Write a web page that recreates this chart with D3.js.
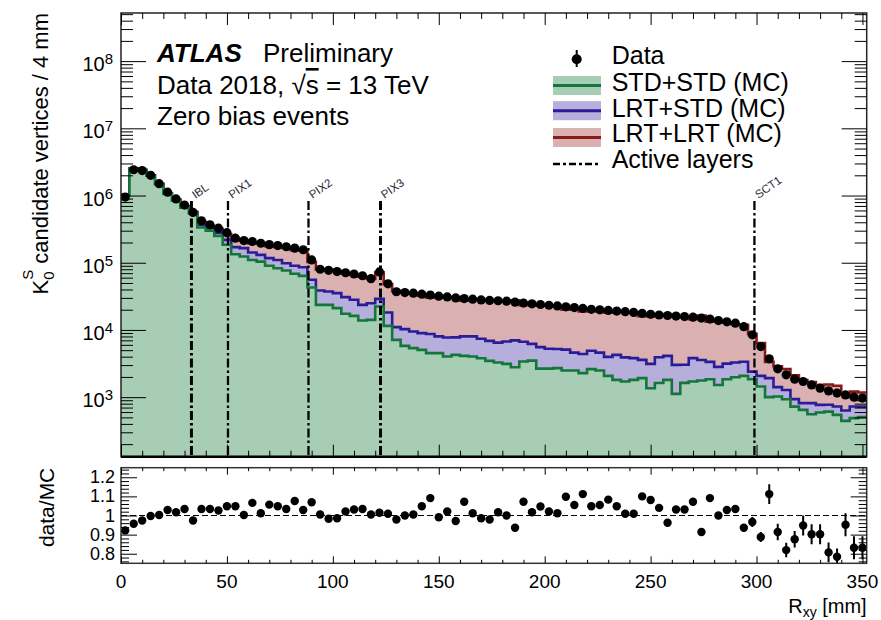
<!DOCTYPE html>
<html><head><meta charset="utf-8">
<script src="https://cdn.jsdelivr.net/npm/d3@7"></script>
<style>
html,body{margin:0;padding:0;background:#fff;}
svg{display:block;font-family:"Liberation Sans",Arial,Helvetica,sans-serif;}
</style></head><body>
<svg id="chart" width="881" height="620"></svg>
<script>
// ---------------- data ----------------
const binWidth = 4;          // mm
const xMax = 352;            // mm
const dataCounts = [
  9.5e5, 2.42e6, 2.35e6, 2.0e6, 1.5e6, 1.12e6, 8.9e5, 7.2e5, 5.6e5, 4.2e5,
  3.66e5, 3.27e5, 2.8e5, 2.32e5, 2.14e5, 2.07e5, 1.95e5, 1.86e5, 1.80e5, 1.73e5,
  1.65e5, 1.56e5, 1.1e5, 8.0e4, 7.7e4, 7.4e4, 7.1e4, 6.8e4, 6.4e4, 5.8e4,
  7.3e4, 4.85e4, 3.7e4, 3.6e4, 3.53e4, 3.41e4, 3.3e4, 3.18e4, 3.1e4, 3.0e4,
  2.93e4, 2.87e4, 2.8e4, 2.75e4, 2.72e4, 2.68e4, 2.59e4, 2.51e4, 2.45e4, 2.39e4,
  2.33e4, 2.28e4, 2.21e4, 2.15e4, 2.09e4, 2.03e4, 1.99e4, 1.95e4, 1.91e4, 1.87e4,
  1.82e4, 1.76e4, 1.71e4, 1.67e4, 1.64e4, 1.61e4, 1.58e4, 1.55e4, 1.50e4, 1.45e4,
  1.38e4, 1.32e4, 1.26e4, 1.12e4, 8.45e3, 5.66e3, 3.72e3, 2.64e3, 2.15e3, 1.85e3,
  1.71e3, 1.52e3, 1.36e3, 1.24e3, 1.15e3, 1.08e3, 1.0e3, 9.7e2
];
const stdStd = [
  1.02e6, 2.5e6, 2.38e6, 1.97e6, 1.47e6, 1.06e6, 8.4e5, 6.6e5, 5.4e5, 3.34e5,
  3.01e5, 2.51e5, 1.85e5, 1.34e5, 1.24e5, 1.10e5, 1.04e5, 9.0e4, 8.3e4, 7.65e4,
  6.84e4, 6.38e4, 4.28e4, 2.36e4, 2.36e4, 2.11e4, 1.74e4, 1.62e4, 1.38e4, 1.41e4,
  2.23e4, 1.15e4, 7.12e3, 5.8e3, 5.36e3, 5.06e3, 4.52e3, 4.52e3, 4.02e3, 4.26e3,
  4.12e3, 4.02e3, 3.8e3, 3.47e3, 3.27e3, 3.13e3, 2.79e3, 3.39e3, 3.5e3, 2.66e3,
  2.66e3, 2.7e3, 2.49e3, 2.49e3, 2.28e3, 2.61e3, 2.49e3, 2.07e3, 1.81e3, 1.71e3,
  1.81e3, 1.92e3, 1.36e3, 1.62e3, 1.81e3, 1.12e3, 1.63e3, 1.71e3, 1.77e3, 1.85e3,
  1.52e3, 1.85e3, 1.98e3, 2.07e3, 1.85e3, 1.44e3, 1.0e3, 1.02e3, 9.3e2, 7.24e2,
  6.47e2, 5.58e2, 5.9e2, 6.1e2, 5.45e2, 4.44e2, 4.87e2, 5.04e2
];
const lrtStd = [
  5e3, 1.2e4, 1.2e4, 1.2e4, 1.2e4, 1.2e4, 1.5e4, 1.8e4, 1.7e4, 3.2e4,
  3.0e4, 2.8e4, 3.4e4, 3.7e4, 4.1e4, 3.2e4, 2.7e4, 2.7e4, 2.7e4, 2.2e4,
  2.2e4, 2.2e4, 1.3e4, 1.5e4, 1.37e4, 1.42e4, 1.34e4, 1.19e4, 9.8e3, 1.09e4,
  6.7e3, 6.7e3, 3.9e3, 4.5e3, 4.1e3, 3.9e3, 4.2e3, 3.5e3, 3.7e3, 3.5e3,
  3.9e3, 4.0e3, 3.6e3, 3.4e3, 3.2e3, 3.6e3, 4.2e3, 3.3e3, 2.7e3, 2.9e3,
  2.6e3, 2.5e3, 2.6e3, 2.1e3, 2.1e3, 2.3e3, 2.1e3, 1.9e3, 2.45e3, 2.2e3,
  2.0e3, 1.67e3, 1.77e3, 2.3e3, 2.3e3, 1.9e3, 1.4e3, 2.1e3, 1.8e3, 1.5e3,
  1.3e3, 1.3e3, 1.3e3, 1.3e3, 5.5e2, 6.3e2, 9.2e2, 3.9e2, 3.5e2, 2.1e2,
  1.67e2, 2.56e2, 1.78e2, 1.6e2, 1.8e2, 1.9e2, 2.4e2, 2.2e2
];
const lrtLrt = [
  5e3, 1.8e4, 1.8e4, 1.8e4, 1.8e4, 1.8e4, 2.0e4, 1.8e4, 1.8e4, 4.0e4,
  2.3e4, 4.0e4, 4.8e4, 5.0e4, 4.8e4, 5.2e4, 6.2e4, 5.9e4, 6.2e4, 6.8e4,
  6.3e4, 6.6e4, 4.7e4, 4.1e4, 4.1e4, 3.97e4, 3.87e4, 3.79e4, 3.83e4, 3.27e4,
  4.3e4, 2.99e4, 2.68e4, 2.57e4, 2.56e4, 2.35e4, 2.15e4, 2.41e4, 2.27e4, 2.31e4,
  1.93e4, 2.04e4, 2.1e4, 2.08e4, 2.07e4, 2.01e4, 2.07e4, 1.67e4, 1.79e4, 1.73e4,
  1.76e4, 1.73e4, 1.5e4, 1.58e4, 1.44e4, 1.45e4, 1.43e4, 1.41e4, 1.39e4, 1.46e4,
  1.42e4, 1.24e4, 1.27e4, 1.22e4, 1.29e4, 1.26e4, 1.23e4, 1.07e4, 1.28e4, 9.9e3,
  1.1e4, 9.7e3, 8.9e3, 8.6e3, 6.35e3, 4.3e3, 1.43e3, 1.48e3, 1.35e3, 1.18e3,
  9.9e2, 8.7e2, 7.4e2, 7.7e2, 7.5e2, 5.0e2, 4.8e2, 4.5e2
];
const ratioValues = [
  0.922, 0.957, 0.974, 0.997, 1.003, 1.029, 1.017, 1.034, 0.974, 1.034,
  1.034, 1.026, 1.048, 1.048, 1.003, 1.066, 1.012, 1.057, 1.048, 1.034,
  1.076, 1.029, 1.069, 1.005, 0.983, 0.986, 1.021, 1.031, 1.034, 1.005,
  1.014, 1.009, 0.979, 1.0, 1.005, 1.048, 1.091, 0.991, 1.021, 0.971,
  1.072, 1.012, 0.986, 0.979, 1.017, 1.0, 0.936, 1.072, 1.017, 1.047,
  1.021, 1.012, 1.098, 1.055, 1.112, 1.048, 1.055, 1.083, 1.048, 1.009,
  1.009, 1.1, 1.081, 1.040, 0.962, 1.031, 1.031, 1.072, 0.914, 1.091,
  1.0, 1.029, 1.034, 0.936, 0.966, 0.888, 1.112, 0.914, 0.819, 0.876,
  0.948, 0.902, 0.902, 0.807, 0.784, 0.952, 0.831, 0.831
];
const ratioErrors = [
  0.003, 0.003, 0.003, 0.003, 0.003, 0.003, 0.003, 0.003, 0.003, 0.003,
  0.003, 0.003, 0.003, 0.003, 0.003, 0.003, 0.003, 0.003, 0.003, 0.003,
  0.003, 0.003, 0.003, 0.003, 0.003, 0.003, 0.003, 0.003, 0.003, 0.003,
  0.003, 0.003, 0.003, 0.003, 0.003, 0.003, 0.003, 0.003, 0.003, 0.003,
  0.003, 0.005, 0.005, 0.005, 0.005, 0.005, 0.005, 0.005, 0.005, 0.005,
  0.005, 0.005, 0.005, 0.005, 0.005, 0.005, 0.005, 0.005, 0.005, 0.005,
  0.005, 0.005, 0.005, 0.005, 0.005, 0.005, 0.005, 0.005, 0.005, 0.005,
  0.01, 0.01, 0.01, 0.02, 0.026, 0.026, 0.052, 0.043, 0.038, 0.043,
  0.052, 0.052, 0.052, 0.052, 0.043, 0.06, 0.06, 0.06
];
const seriesKeys = ["std", "lrtstd", "lrtlrt"];
const seriesNames = ["STD+STD (MC)", "LRT+STD (MC)", "LRT+LRT (MC)"];
const activeLayers = ["IBL", "PIX1", "PIX2", "PIX3", "SCT1"];
const activeLayerRadii = [33.25, 50.5, 88.5, 122.5, 299];
const yDecades = [3, 4, 5, 6, 7, 8];
const xMajorTicks = [0, 50, 100, 150, 200, 250, 300, 350];
const ratioMajorTicks = [0.8, 0.9, 1.0, 1.1, 1.2];
const ratioTickLabels = ["0.8", "0.9", "1", "1.1", "1.2"];

// ---------------- styles ----------------
const fillColors = ["#a8cdb5", "#b6aedb", "#dab0b0"];
const lineColors = ["#13773a", "#2a1b98", "#8a1a1a"];

const svg = d3.select("#chart");
const L = 121, R = 866.7, T = 13, B = 456.7, RT = 467.7, RB = 563.3;
const x = d3.scaleLinear().domain([0, xMax]).range([L, R]);
const y = d3.scaleLog().domain([130, 5.2e8]).range([B, T]);
const yr = d3.scaleLinear().domain([0.75, 1.25]).range([RB, RT]);

const bins = dataCounts.map((d, i) => ({
  x0: i * binWidth, x1: (i + 1) * binWidth, xc: i * binWidth + binWidth / 2,
  data: d, std: stdStd[i], lrtstd: lrtStd[i], lrtlrt: lrtLrt[i],
  ratio: ratioValues[i], err: ratioErrors[i]
}));
const stacked = d3.stack().keys(seriesKeys)(bins);

const defs = svg.append("defs");
defs.append("clipPath").attr("id", "clipMain").append("rect")
  .attr("x", L).attr("y", T).attr("width", R - L).attr("height", B - T);
defs.append("clipPath").attr("id", "clipRatio").append("rect")
  .attr("x", L).attr("y", RT).attr("width", R - L).attr("height", RB - RT);

const gMain = svg.append("g").attr("clip-path", "url(#clipMain)");

function stepPoints(layer) {
  const pts = [];
  layer.forEach((d, i) => { pts.push([bins[i].x0, d[1]]); pts.push([bins[i].x1, d[1]]); });
  return pts;
}
const area = d3.area().x(d => x(d[0])).y0(B).y1(d => y(d[1]));
const line = d3.line().x(d => x(d[0])).y(d => y(d[1]));

for (let k = 2; k >= 0; k--) {
  const pts = stepPoints(stacked[k]);
  gMain.append("path").attr("d", area(pts)).attr("fill", fillColors[k]);
  gMain.append("path").attr("d", line(pts)).attr("fill", "none")
    .attr("stroke", lineColors[k]).attr("stroke-width", 2.6);
}

// active layers
activeLayerRadii.forEach((r, i) => {
  gMain.append("line").attr("x1", x(r)).attr("x2", x(r)).attr("y1", 201).attr("y2", B)
    .attr("stroke", "#000").attr("stroke-width", (i === 0 || i === 3) ? 3 : 2.3)
    .attr("stroke-dasharray", "9,3,2.5,3");
  svg.append("text").attr("transform", `translate(${x(r) + 4},199) rotate(-35)`)
    .attr("font-size", 11.5).attr("fill", "#2a2a3a").text(activeLayers[i]);
});

// data points main
gMain.selectAll("circle.data").data(bins).enter().append("circle")
  .attr("cx", d => x(d.xc)).attr("cy", d => y(d.data)).attr("r", 4.6).attr("fill", "#000");

// frame main
svg.append("rect").attr("x", L).attr("y", T).attr("width", R - L).attr("height", B - T)
  .attr("fill", "none").attr("stroke", "#222").attr("stroke-width", 1.5);
svg.append("line").attr("x1", L).attr("x2", R).attr("y1", B).attr("y2", B)
  .attr("stroke", "#000").attr("stroke-width", 2.5);

// axes helpers
function addAxis(axis, tx, ty) {
  const g = svg.append("g").attr("transform", `translate(${tx},${ty})`).call(axis);
  g.select(".domain").remove();
  g.selectAll(".tick line").attr("stroke", "#000").attr("stroke-width", 1);
  g.selectAll(".tick text").remove();
  return g;
}
const xMinor = d3.range(0, xMax + 0.1, 10).filter(v => v % 50 !== 0);
// main x ticks
addAxis(d3.axisBottom(x).tickValues(xMajorTicks).tickSize(-12), 0, B);
addAxis(d3.axisBottom(x).tickValues(xMinor).tickSize(-6), 0, B);
addAxis(d3.axisTop(x).tickValues(xMajorTicks).tickSize(-12), 0, T);
addAxis(d3.axisTop(x).tickValues(xMinor).tickSize(-6), 0, T);
// main y ticks
const yMajor = yDecades.map(p => Math.pow(10, p));
const yMinor = [];
for (let p = 2; p <= 8; p++) for (let m = 2; m <= 9; m++) {
  const v = m * Math.pow(10, p);
  if (v >= 130 && v <= 5.2e8) yMinor.push(v);
}
addAxis(d3.axisLeft(y).tickValues(yMajor).tickSize(-25), L, 0);
addAxis(d3.axisLeft(y).tickValues(yMinor).tickSize(-12), L, 0);
addAxis(d3.axisRight(y).tickValues(yMajor).tickSize(-25), R, 0);
addAxis(d3.axisRight(y).tickValues(yMinor).tickSize(-12), R, 0);

// main y labels
yDecades.forEach(p => {
  const t = svg.append("text").attr("x", 113).attr("y", y(Math.pow(10, p)) + 10)
    .attr("text-anchor", "end").attr("font-size", 20).attr("fill", "#000");
  t.append("tspan").text("10");
  t.append("tspan").attr("font-size", 15).attr("dy", -7).text(p);
});

// y title
const yt = svg.append("text").attr("transform", "translate(48,13) rotate(-90)")
  .attr("text-anchor", "end").attr("font-size", 22).attr("fill", "#000");
yt.append("tspan").text("K");
yt.append("tspan").attr("font-size", 15).attr("dy", 6).text("0");
yt.append("tspan").attr("font-size", 15).attr("dx", -8.3).attr("dy", -21).text("S");
yt.append("tspan").attr("dy", 15).text(" candidate vertices / 4 mm");

// ---------------- ratio panel ----------------
const gRatio = svg.append("g").attr("clip-path", "url(#clipRatio)");
gRatio.append("line").attr("x1", L).attr("x2", R).attr("y1", yr(1)).attr("y2", yr(1))
  .attr("stroke", "#000").attr("stroke-width", 1).attr("stroke-dasharray", "6,3");
gRatio.selectAll("line.err").data(bins).enter().append("line")
  .attr("x1", d => x(d.xc)).attr("x2", d => x(d.xc))
  .attr("y1", d => yr(d.ratio - d.err)).attr("y2", d => yr(d.ratio + d.err))
  .attr("stroke", "#000").attr("stroke-width", 2);
gRatio.selectAll("circle.r").data(bins).enter().append("circle")
  .attr("cx", d => x(d.xc)).attr("cy", d => yr(d.ratio)).attr("r", 4.2).attr("fill", "#000");

svg.append("rect").attr("x", L).attr("y", RT).attr("width", R - L).attr("height", RB - RT)
  .attr("fill", "none").attr("stroke", "#333").attr("stroke-width", 1.5);

addAxis(d3.axisBottom(x).tickValues(xMajorTicks).tickSize(-7), 0, RB);
addAxis(d3.axisBottom(x).tickValues(xMinor).tickSize(-3.5), 0, RB);
addAxis(d3.axisTop(x).tickValues(xMajorTicks).tickSize(-7), 0, RT);
addAxis(d3.axisTop(x).tickValues(xMinor).tickSize(-3.5), 0, RT);
const rMinor = d3.range(0.76, 1.245, 0.02).filter(v => Math.abs(v * 10 - Math.round(v * 10)) > 0.01);
addAxis(d3.axisLeft(yr).tickValues(ratioMajorTicks).tickSize(-16), L, 0);
addAxis(d3.axisLeft(yr).tickValues(rMinor).tickSize(-8), L, 0);
addAxis(d3.axisRight(yr).tickValues(ratioMajorTicks).tickSize(-16), R, 0);
addAxis(d3.axisRight(yr).tickValues(rMinor).tickSize(-8), R, 0);

ratioMajorTicks.forEach((v, i) => {
  svg.append("text").attr("x", 115).attr("y", yr(v) + 6).attr("text-anchor", "end")
    .attr("font-size", 18).attr("fill", "#000").text(ratioTickLabels[i]);
});
xMajorTicks.forEach(v => {
  svg.append("text").attr("x", x(v)).attr("y", 588).attr("text-anchor", "middle")
    .attr("font-size", 19).attr("fill", "#000").text(v);
});

svg.append("text").attr("transform", `translate(54,${RT}) rotate(-90)`)
  .attr("text-anchor", "end").attr("font-size", 21).attr("fill", "#000").text("data/MC");

const xt = svg.append("text").attr("x", R).attr("y", 613).attr("text-anchor", "end")
  .attr("font-size", 20).attr("fill", "#000");
xt.append("tspan").text("R");
xt.append("tspan").attr("font-size", 14).attr("dy", 4).text("xy");
xt.append("tspan").attr("dy", -4).text(" [mm]");

// ---------------- labels ----------------
const lab = svg.append("g").attr("font-size", 26).attr("fill", "#000");
lab.append("text").attr("x", 157).attr("y", 61.7).attr("font-weight", "bold")
  .attr("font-style", "italic").text("ATLAS");
lab.append("text").attr("x", 263).attr("y", 61.7).text("Preliminary");
const t2 = lab.append("text").attr("x", 157).attr("y", 94);
t2.append("tspan").text("Data 2018, √");
t2.append("tspan").attr("text-decoration", "overline").text("s");
t2.append("tspan").text(" = 13 TeV");
lab.append("text").attr("x", 157).attr("y", 125).text("Zero bias events");

// legend
const lx0 = 553, lx1 = 601, ltx = 611.7;
const leg = svg.append("g");
leg.append("line").attr("x1", 576.7).attr("x2", 576.7).attr("y1", 50).attr("y2", 67)
  .attr("stroke", "#000").attr("stroke-width", 2);
leg.append("circle").attr("cx", 576.7).attr("cy", 59.3).attr("r", 5).attr("fill", "#000");
leg.append("text").attr("x", ltx).attr("y", 63.5).attr("font-size", 25).text("Data");
const boxCenters = [85.5, 110.7, 137.5];
const textBase = [90.5, 116.5, 142.3];
seriesNames.forEach((n, i) => {
  leg.append("rect").attr("x", lx0).attr("y", boxCenters[i] - 9.5).attr("width", lx1 - lx0)
    .attr("height", 19).attr("fill", fillColors[i]);
  leg.append("line").attr("x1", lx0).attr("x2", lx1).attr("y1", boxCenters[i]).attr("y2", boxCenters[i])
    .attr("stroke", lineColors[i]).attr("stroke-width", 3);
  leg.append("text").attr("x", ltx).attr("y", textBase[i]).attr("font-size", 25).text(n);
});
leg.append("line").attr("x1", lx0).attr("x2", lx1).attr("y1", 164).attr("y2", 164)
  .attr("stroke", "#000").attr("stroke-width", 2.5).attr("stroke-dasharray", "7,3,3,3");
leg.append("text").attr("x", ltx).attr("y", 167.5).attr("font-size", 25).text("Active layers");
</script>
</body></html>
